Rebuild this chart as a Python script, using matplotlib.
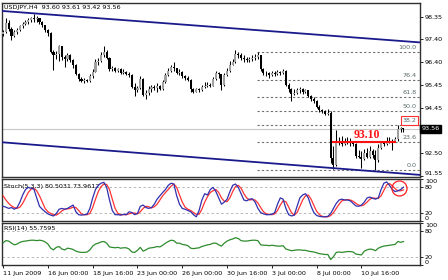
import matplotlib
matplotlib.use('Agg')
import matplotlib.pyplot as plt
import matplotlib.transforms as mtrans
import numpy as np

# ---------------- data ----------------
title_text = "USDJPY,H4  93.60 93.61 93.42 93.56"
first_open = 97.60
closes = [
    97.70, 98.10, 97.85, 97.55, 97.70, 97.80, 97.95, 98.05, 98.15, 98.20, 98.30, 98.25,
    98.30, 98.15, 98.00, 97.80, 97.65, 96.85, 96.70, 96.75, 97.10, 96.65, 96.55, 96.70,
    96.50, 96.30, 95.90, 95.70, 95.60, 95.65, 95.60, 95.80, 96.00, 96.40, 96.45, 96.70,
    96.85, 96.60, 96.10, 96.15, 96.05, 96.10, 95.95, 96.00, 95.90, 95.85, 95.35, 95.20,
    95.30, 95.70, 95.00, 95.10, 95.25, 95.35, 95.30, 95.40, 95.25, 95.55, 95.85, 96.05,
    96.20, 96.15, 95.95, 96.00, 95.80, 95.75, 95.65, 95.25, 95.15, 95.25, 95.20, 95.35,
    95.40, 95.45, 95.40, 95.70, 95.95, 95.90, 95.45, 95.85, 96.05, 96.30, 96.40, 96.75,
    96.70, 96.60, 96.55, 96.50, 96.55, 96.60, 96.65, 96.70, 96.10, 95.95, 95.95, 95.85,
    95.95, 95.90, 96.00, 95.95, 96.05, 95.45, 95.25, 95.05, 95.10, 95.20, 95.25, 95.15,
    95.20, 94.95, 94.85, 94.75, 94.50, 94.35, 94.30, 94.20, 94.25, 92.30, 92.00, 93.00,
    93.05, 92.90, 93.00, 93.05, 92.95, 92.90, 92.40, 92.35, 92.25, 92.50, 92.35, 92.60,
    92.45, 92.20, 92.75, 92.95, 92.90, 93.00, 93.05, 93.00, 93.10, 93.55, 93.60, 93.56,
]
highs = [
    97.80, 98.31, 98.22, 97.90, 97.80, 97.88, 98.01, 98.13, 98.22, 98.31, 98.35, 98.48,
    98.40, 98.31, 98.18, 98.02, 97.85, 97.70, 96.95, 96.90, 97.15, 97.12, 96.72, 96.80,
    96.75, 96.55, 96.35, 95.95, 95.78, 95.75, 95.70, 95.90, 96.10, 96.55, 96.60, 96.85,
    97.11, 96.95, 96.65, 96.25, 96.20, 96.18, 96.15, 96.12, 96.05, 95.99, 95.90, 95.50,
    95.40, 95.80, 95.75, 95.20, 95.40, 95.45, 95.43, 95.50, 95.43, 95.65, 95.95, 96.15,
    96.30, 96.40, 96.18, 96.10, 96.02, 95.86, 95.80, 95.70, 95.30, 95.30, 95.30, 95.43,
    95.56, 95.56, 95.52, 95.78, 96.05, 96.00, 95.92, 95.95, 96.15, 96.45, 96.55, 96.95,
    96.85, 96.80, 96.70, 96.65, 96.65, 96.70, 96.75, 96.85, 96.72, 96.15, 96.05, 96.00,
    96.05, 96.05, 96.08, 96.05, 96.12, 96.08, 95.50, 95.30, 95.25, 95.30, 95.35, 95.30,
    95.28, 95.22, 95.00, 94.92, 94.79, 94.57, 94.40, 94.36, 94.40, 94.30, 92.80, 93.50,
    93.20, 93.25, 93.15, 93.22, 93.15, 93.05, 92.95, 92.65, 92.60, 92.70, 92.75, 92.82,
    92.70, 92.65, 92.90, 93.05, 93.05, 93.20, 93.20, 93.12, 93.20, 93.72, 93.65, 93.61,
]
lows = [
    97.55, 97.66, 97.75, 97.36, 97.50, 97.62, 97.75, 97.88, 98.00, 98.05, 98.13, 98.15,
    98.13, 98.05, 97.90, 97.70, 97.55, 96.80, 96.08, 96.55, 96.45, 96.50, 96.20, 96.45,
    96.40, 96.15, 95.85, 95.60, 95.55, 95.52, 95.55, 95.58, 95.75, 95.98, 96.30, 96.42,
    96.65, 96.55, 96.05, 96.05, 95.98, 95.99, 95.90, 95.90, 95.85, 95.78, 95.30, 94.95,
    95.13, 95.25, 94.95, 94.85, 95.00, 95.13, 95.22, 95.13, 95.20, 95.22, 95.50, 95.80,
    96.00, 96.05, 95.90, 95.88, 95.75, 95.65, 95.60, 95.13, 95.10, 95.13, 95.15, 95.18,
    95.30, 95.35, 95.35, 95.38, 95.65, 95.75, 95.22, 95.40, 95.80, 96.00, 96.28, 96.38,
    96.60, 96.50, 96.42, 96.42, 96.40, 96.45, 96.50, 96.55, 96.05, 95.86, 95.82, 95.75,
    95.82, 95.80, 95.85, 95.85, 95.90, 95.40, 95.15, 94.75, 95.00, 95.05, 95.10, 95.05,
    95.08, 94.90, 94.75, 94.65, 94.45, 94.27, 94.22, 94.15, 94.15, 92.10, 91.82, 91.95,
    92.85, 92.82, 92.85, 92.90, 92.82, 92.80, 92.30, 92.30, 91.87, 92.20, 92.30, 92.30,
    92.30, 91.79, 92.15, 92.70, 92.80, 92.88, 92.95, 92.65, 92.98, 93.05, 93.40, 93.42,
]
stoch_k = [
    35, 33, 30, 32, 28, 32, 45, 62, 75, 80, 78, 76,
    55, 35, 28, 22, 17, 14, 12, 18, 28, 30, 28, 30,
    34, 38, 22, 15, 14, 15, 16, 30, 55, 75, 85, 90,
    92, 80, 50, 25, 15, 15, 14, 16, 15, 22, 20, 15,
    18, 35, 38, 32, 30, 32, 40, 52, 60, 68, 75, 85,
    90, 88, 60, 40, 30, 28, 25, 22, 15, 10, 25, 50,
    65, 62, 75, 80, 70, 55, 40, 45, 52, 70, 85, 88,
    80, 65, 50, 48, 52, 53, 45, 30, 20, 17, 15, 15,
    16, 20, 40, 55, 52, 30, 15, 12, 14, 35, 55, 62,
    65, 55, 35, 20, 13, 11, 10, 10, 11, 18, 30, 42,
    50, 52, 50, 50, 48, 42, 36, 35, 38, 45, 55, 57,
    54, 52, 55, 75, 90, 93, 85, 75, 70, 72, 75, 80.5031,
]
stoch_d = [
    60, 50, 42, 36, 32, 30, 33, 42, 55, 68, 76, 78,
    72, 60, 45, 30, 22, 18, 15, 14, 18, 24, 28, 29,
    30, 33, 32, 25, 17, 15, 15, 18, 32, 52, 70, 82,
    88, 87, 75, 52, 30, 18, 15, 15, 15, 17, 19, 19,
    17, 22, 30, 35, 34, 31, 34, 40, 50, 60, 68, 75,
    83, 88, 80, 62, 45, 33, 28, 25, 20, 16, 16, 28,
    45, 58, 68, 72, 75, 68, 55, 47, 46, 55, 70, 82,
    85, 78, 65, 55, 50, 51, 50, 43, 32, 22, 17, 16,
    15, 17, 25, 38, 48, 46, 33, 20, 14, 20, 35, 50,
    60, 62, 52, 37, 23, 15, 11, 10, 10, 13, 20, 30,
    40, 48, 50, 51, 50, 47, 42, 38, 36, 39, 45, 52,
    55, 54, 54, 60, 73, 86, 89, 84, 77, 72, 72, 73.9612,
]
rsi = [
    53, 58, 57, 52, 48, 50, 54, 56, 57, 58, 59, 59,
    58, 59, 58, 55, 50, 40, 36, 42, 44, 38, 36, 40,
    39, 37, 33, 31, 30, 30, 31, 36, 45, 50, 52, 55,
    56, 52, 43, 42, 41, 42, 40, 41, 41, 38, 31, 30,
    35, 42, 33, 36, 40, 41, 42, 44, 43, 47, 52, 56,
    59, 58, 52, 52, 49, 48, 46, 40, 39, 40, 41, 44,
    46, 48, 49, 52, 52, 48, 45, 52, 57, 60, 62, 65,
    63, 58, 57, 57, 58, 59, 59, 58, 48, 47, 47, 46,
    47, 46, 45, 45, 46, 38, 36, 34, 35, 36, 36, 35,
    35, 33, 32, 31, 29, 27, 26, 25, 25, 13, 20, 30,
    31, 30, 31, 32, 32, 31, 26, 25, 24, 33, 36, 38,
    37, 34, 40, 43, 45, 46, 47, 48, 49, 56, 54, 55.7595,
]
stoch_label = "Stoch(5,3,3) 80.5031 73.9612"
rsi_label = "RSI(14) 55.7595"
price_ticks = [98.35, 97.40, 96.40, 95.45, 94.45, 92.50, 91.55]
current_price = 93.56
fib_levels = [0.0, 23.6, 38.2, 50.0, 61.8, 76.4, 100.0]
fib_high_bar = 91
fib_low_bar = 133
channel_upper = [98.61, 97.26]
channel_lower = [92.98, 91.58]
marked_price = 93.0
marked_text = "93.10"
marked_from_bar = 118
marked_to_bar = 140
ind_levels = [20, 80]
ind_ticks = [0, 20, 80, 100]
x_tick_bars = [0, 16, 32, 48, 64, 80, 96, 112, 128]
x_tick_labels = ["11 Jun 2009", "16 Jun 00:00", "18 Jun 16:00", "23 Jun 00:00",
                 "26 Jun 00:00", "30 Jun 16:00", "3 Jul 00:00", "8 Jul 00:00",
                 "10 Jul 16:00"]

# ---------------- figure ----------------
plt.rcParams['font.family'] = ['DejaVu Sans']
W, H = 448, 280
fig = plt.figure(figsize=(W / 100, H / 100), dpi=100)
fig.patch.set_facecolor('white')

L = 1.7 / W
AW = 418.3 / W
ax = fig.add_axes([L, (H - 177) / H, AW, 174 / H])
ax_s = fig.add_axes([L, (H - 221) / H, AW, 42 / H])
ax_r = fig.add_axes([L, (H - 265) / H, AW, 42 / H])

n = len(closes)
xs = np.arange(n)
xlim = (-0.5, 148.9)
FS = 4.6
spine_c = '#303030'

for a in (ax, ax_s, ax_r):
    a.set_xlim(*xlim)
    a.set_facecolor('white')
    for s in a.spines.values():
        s.set_color(spine_c)
        s.set_linewidth(1.0)
    a.yaxis.tick_right()
    a.tick_params(axis='y', labelsize=FS, length=2, width=0.6, pad=1.5, colors='black')
    a.tick_params(axis='x', bottom=False, labelbottom=False)

# ---- main price panel ----
ax.set_ylim(91.49, 98.95)
ax.set_yticks(price_ticks)
ax.set_yticklabels([f"{p:.2f}" for p in price_ticks])
ax.get_yticklabels()[-1].set_verticalalignment('bottom')

opens = np.array([first_open] + closes[:-1])
c = np.array(closes)
h = np.array(highs)
l = np.array(lows)
bull = c >= opens
ax.vlines(xs, l, h, color='black', lw=0.75, zorder=3)
body_bot = np.minimum(opens, c)
body_h = np.maximum(np.abs(c - opens), 0.012)
ax.bar(xs, body_h, bottom=body_bot, width=0.72,
       color=np.where(bull, '#a0a0a0', '#000000'), edgecolor='none', zorder=4)

# current price line
ax.axhline(current_price, color='#c8c8c8', lw=0.8, zorder=1)
ax.text(1.003, current_price, f"{current_price:.2f}",
        transform=mtrans.blended_transform_factory(ax.transAxes, ax.transData),
        ha='left', va='center', fontsize=FS, color='white', clip_on=False,
        bbox=dict(boxstyle='square,pad=0.25', fc='black', ec='black'), zorder=10)

# channel lines
ax.plot(list(xlim), channel_upper, color='#1a1a8c', lw=1.3, zorder=5, solid_capstyle='butt')
ax.plot(list(xlim), channel_lower, color='#1a1a8c', lw=1.3, zorder=5, solid_capstyle='butt')

# fibonacci
fib_hi = highs[fib_high_bar]
fib_lo = lows[fib_low_bar]
for lev in fib_levels:
    p = fib_lo + (fib_hi - fib_lo) * lev / 100.0
    ax.hlines(p, fib_high_bar - 0.4, xlim[1], colors='#707070', lw=0.8,
              linestyles=(0, (2.0, 2.0)), zorder=2)
    kw = {}
    if lev == 38.2:
        kw['bbox'] = dict(boxstyle='square,pad=0.3', fc='none', ec='#ff3030', lw=0.8)
    ax.annotate(f"{lev:.1f}", xy=(xlim[1], p), xytext=(-2.5, 1.2), textcoords='offset points',
                ha='right', va='bottom', fontsize=FS, color='#5a6a6a', zorder=6, **kw)

# marked horizontal level
ax.hlines(marked_price, marked_from_bar - 0.5, marked_to_bar + 0.5, colors='#ff1010', lw=1.5, zorder=6)
ax.annotate(marked_text, xy=((marked_from_bar + marked_to_bar) / 2 + 1, marked_price),
            xytext=(0, 0.3), textcoords='offset points', ha='center', va='bottom',
            fontsize=8.5, fontweight='bold', color='#ff1010', family='Liberation Serif', zorder=7)

ax.text(0.006, 0.977, title_text, transform=ax.transAxes, ha='left', va='center',
        fontsize=FS, color='black')


def ind_ticks_setup(a):
    a.set_ylim(0, 100)
    a.set_yticks(ind_ticks)
    a.set_yticklabels([str(t) for t in ind_ticks])
    labs = a.get_yticklabels()
    labs[0].set_verticalalignment('bottom')
    labs[-1].set_verticalalignment('top')
    for lv in ind_levels:
        a.axhline(lv, color='#b8b8b8', lw=0.7, ls=(0, (2.5, 2.5)), zorder=1)


# ---- stochastic ----
ind_ticks_setup(ax_s)
ax_s.plot(xs, stoch_d, color='#ff3333', lw=0.9, zorder=3)
ax_s.plot(xs, stoch_k, color='#3030b0', lw=0.9, zorder=4)
ax_s.plot([n - 1 - 1.7], [stoch_k[-1] - 1.5], marker='o', ms=10.8, mfc='none', mec='#ff2020',
          mew=0.9, zorder=6, clip_on=False)
ax_s.text(0.006, 0.83, stoch_label, transform=ax_s.transAxes, ha='left', va='center',
          fontsize=FS, color='black')

# ---- RSI ----
ind_ticks_setup(ax_r)
ax_r.plot(xs, rsi, color='#2e8b2e', lw=0.9, zorder=3)
ax_r.text(0.006, 0.88, rsi_label, transform=ax_r.transAxes, ha='left', va='center',
          fontsize=FS, color='black')

ax_r.tick_params(axis='x', bottom=True, labelbottom=True, labelsize=FS, length=2.5,
                 width=0.6, pad=1.5, colors='black')
ax_r.set_xticks(x_tick_bars)
ax_r.set_xticklabels(x_tick_labels)
for t in ax_r.get_xticklabels():
    t.set_horizontalalignment('left')

fig.savefig('out.png', dpi=100, facecolor='white')
